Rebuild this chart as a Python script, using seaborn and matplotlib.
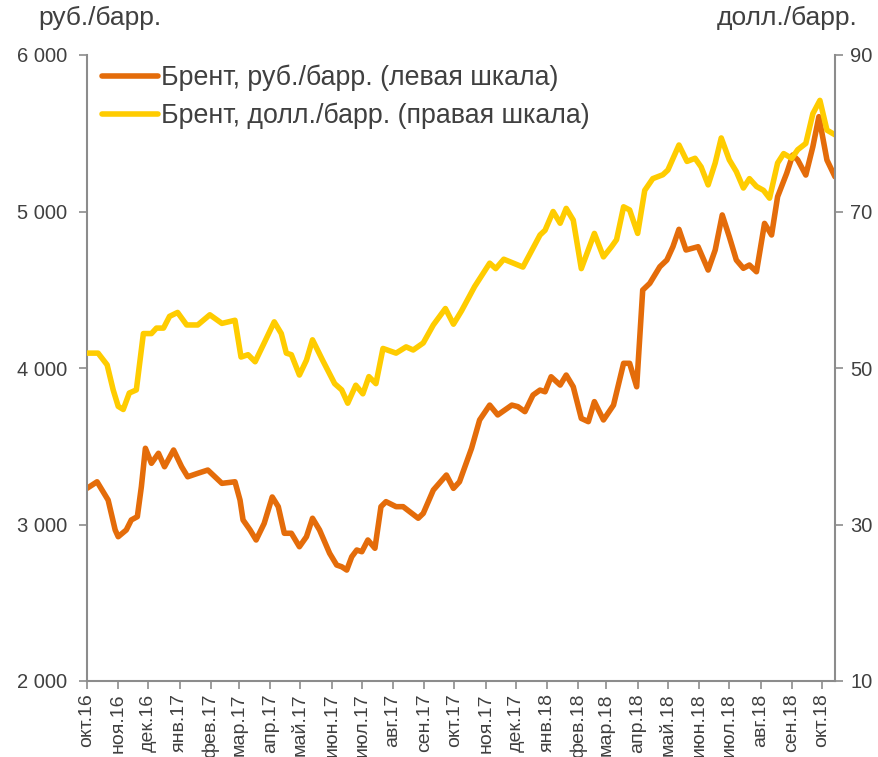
import pandas as pd
import numpy as np
import matplotlib
matplotlib.use("Agg")
import matplotlib.pyplot as plt
import matplotlib.dates as mdates
import seaborn as sns

# ---- data ----
rub_dates = ["2016-10-01", "2016-10-11", "2016-10-22", "2016-10-29", "2016-11-01", "2016-11-09",
             "2016-11-14", "2016-11-20", "2016-11-24", "2016-11-28", "2016-12-04", "2016-12-11",
             "2016-12-17", "2016-12-26", "2017-01-03", "2017-01-09", "2017-01-19", "2017-01-29",
             "2017-02-12", "2017-02-25", "2017-03-02", "2017-03-05", "2017-03-12", "2017-03-18",
             "2017-03-26", "2017-04-03", "2017-04-09", "2017-04-15", "2017-04-22", "2017-04-30",
             "2017-05-07", "2017-05-13", "2017-05-20", "2017-05-30", "2017-06-06", "2017-06-11",
             "2017-06-16", "2017-06-21", "2017-06-26", "2017-07-01", "2017-07-07", "2017-07-14",
             "2017-07-20", "2017-07-25", "2017-08-04", "2017-08-11", "2017-08-26", "2017-08-31",
             "2017-09-10", "2017-09-23", "2017-09-30", "2017-10-06", "2017-10-18", "2017-10-26",
             "2017-11-05", "2017-11-13", "2017-11-27", "2017-12-03", "2017-12-10", "2017-12-18",
             "2017-12-25", "2017-12-30", "2018-01-05", "2018-01-14", "2018-01-20", "2018-01-27",
             "2018-02-04", "2018-02-11", "2018-02-17", "2018-02-26", "2018-03-08", "2018-03-18",
             "2018-03-24", "2018-03-31", "2018-04-06", "2018-04-13", "2018-04-23", "2018-04-30",
             "2018-05-06", "2018-05-12", "2018-05-19", "2018-05-31", "2018-06-10", "2018-06-17",
             "2018-06-24", "2018-07-01", "2018-07-08", "2018-07-15", "2018-07-21", "2018-07-28",
             "2018-08-05", "2018-08-12", "2018-08-18", "2018-08-27", "2018-09-02", "2018-09-07",
             "2018-09-15", "2018-09-22", "2018-09-28", "2018-10-06", "2018-10-14"]
rub_values = [3231, 3273, 3156, 2965, 2922, 2965,
              3029, 3050, 3241, 3487, 3391, 3455,
              3369, 3476, 3369, 3305, 3327, 3348,
              3263, 3273, 3156, 3029, 2965, 2901,
              3007, 3176, 3114, 2944, 2944, 2858,
              2922, 3040, 2965, 2816, 2741, 2730,
              2709, 2794, 2837, 2826, 2901, 2848,
              3114, 3146, 3114, 3114, 3040, 3071,
              3220, 3316, 3231, 3273, 3487, 3668,
              3763, 3700, 3763, 3753, 3721, 3827,
              3859, 3848, 3944, 3891, 3955, 3880,
              3678, 3657, 3785, 3668, 3763, 4030,
              4030, 3880, 4498, 4541, 4647, 4690,
              4775, 4886, 4754, 4775, 4626, 4754,
              4978, 4839, 4690, 4637, 4658, 4615,
              4924, 4850, 5095, 5244, 5361, 5329,
              5233, 5414, 5606, 5329, 5222]

usd_dates = ["2016-10-01", "2016-10-12", "2016-10-21", "2016-10-27", "2016-11-01", "2016-11-06",
             "2016-11-12", "2016-11-19", "2016-11-26", "2016-12-04", "2016-12-09", "2016-12-16",
             "2016-12-22", "2016-12-30", "2017-01-08", "2017-01-19", "2017-01-31", "2017-02-12",
             "2017-02-25", "2017-03-03", "2017-03-10", "2017-03-17", "2017-03-26", "2017-04-05",
             "2017-04-12", "2017-04-17", "2017-04-22", "2017-04-30", "2017-05-07", "2017-05-13",
             "2017-05-23", "2017-06-04", "2017-06-11", "2017-06-17", "2017-06-25", "2017-07-02",
             "2017-07-08", "2017-07-15", "2017-07-22", "2017-08-04", "2017-08-14", "2017-08-21",
             "2017-08-31", "2017-09-10", "2017-09-22", "2017-09-30", "2017-10-08", "2017-10-21",
             "2017-11-05", "2017-11-11", "2017-11-19", "2017-12-08", "2017-12-25", "2017-12-30",
             "2018-01-07", "2018-01-14", "2018-01-20", "2018-01-27", "2018-02-04", "2018-02-17",
             "2018-02-26", "2018-03-06", "2018-03-11", "2018-03-18", "2018-03-24", "2018-04-01",
             "2018-04-08", "2018-04-16", "2018-04-26", "2018-05-01", "2018-05-12", "2018-05-20",
             "2018-05-28", "2018-06-03", "2018-06-10", "2018-06-17", "2018-06-23", "2018-07-01",
             "2018-07-08", "2018-07-15", "2018-07-21", "2018-07-28", "2018-08-04", "2018-08-10",
             "2018-08-18", "2018-08-24", "2018-09-01", "2018-09-07", "2018-09-15", "2018-09-22",
             "2018-09-29", "2018-10-06", "2018-10-14"]
usd_values = [51.9, 51.9, 50.4, 47.2, 45.1, 44.7,
              46.8, 47.2, 54.4, 54.4, 55.1, 55.1,
              56.6, 57.1, 55.5, 55.5, 56.8, 55.7,
              56.1, 51.4, 51.7, 50.8, 53.2, 55.9,
              54.4, 51.9, 51.7, 49.1, 51.0, 53.6,
              51.0, 48.0, 47.2, 45.5, 47.8, 46.7,
              48.9, 48.0, 52.5, 51.9, 52.7, 52.3,
              53.2, 55.5, 57.6, 55.6, 57.3, 60.4,
              63.4, 62.7, 63.9, 62.9, 67.0, 67.6,
              70.0, 68.5, 70.4, 68.9, 62.7, 67.2,
              64.2, 65.5, 66.4, 70.6, 70.2, 67.2,
              72.7, 74.2, 74.7, 75.3, 78.5, 76.4,
              76.8, 75.7, 73.4, 76.2, 79.4, 76.6,
              75.1, 73.0, 74.2, 73.2, 72.7, 71.7,
              76.2, 77.4, 76.8, 77.9, 78.7, 82.5,
              84.2, 80.4, 79.8]

series_names = ["Брент, руб./барр. (левая шкала)", "Брент, долл./барр. (правая шкала)"]
left_ticks = [2000, 3000, 4000, 5000, 6000]
left_tick_labels = ["2 000", "3 000", "4 000", "5 000", "6 000"]
right_ticks = [10, 30, 50, 70, 90]
month_names = ["янв", "фев", "мар", "апр", "май", "июн", "июл", "авг", "сен", "окт", "ноя", "дек"]
left_unit = "руб./барр."
right_unit = "долл./барр."

# ---- styling ----
sns.set_theme(style="white")
plt.rcParams["font.family"] = ["Liberation Sans", "DejaVu Sans"]
ORANGE = "#E46C0A"
YELLOW = "#FFCC00"
AXIS = "#8C8C8C"
TEXT = "#404040"

rub_df = pd.DataFrame({"date": pd.to_datetime(rub_dates), "value": rub_values})
usd_df = pd.DataFrame({"date": pd.to_datetime(usd_dates), "value": usd_values})

fig = plt.figure(figsize=(8.79, 7.57), dpi=100)
ax = fig.add_axes([87 / 879, 1 - 681 / 757, (835 - 87) / 879, (681 - 55) / 757])
ax2 = ax.twinx()

sns.lineplot(data=rub_df, x="date", y="value", ax=ax, color=ORANGE, linewidth=4.0,
             label=series_names[0], legend=False)
sns.lineplot(data=usd_df, x="date", y="value", ax=ax2, color=YELLOW, linewidth=4.0,
             label=series_names[1], legend=False)
for a in (ax, ax2):
    for ln in a.get_lines():
        ln.set_solid_joinstyle("round")
        ln.set_solid_capstyle("round")

ax.set_xlim(pd.Timestamp("2016-10-01"), pd.Timestamp("2018-10-14"))
ax.set_ylim(2000, 6000)
ax2.set_ylim(10, 90)

month_starts = pd.date_range("2016-10-01", "2018-10-01", freq="MS")
ax.set_xticks(month_starts)
ax.set_xticklabels([f"{month_names[d.month - 1]}.{d.year % 100:02d}" for d in month_starts],
                   rotation=90, fontsize=14, color=TEXT)
ax.set_yticks(left_ticks)
ax.set_yticklabels(left_tick_labels, fontsize=14.5, color=TEXT)
ax2.set_yticks(right_ticks)
ax2.set_yticklabels([str(v) for v in right_ticks], fontsize=14.5, color=TEXT)

ax.set_xlabel("")
ax.set_ylabel("")
ax2.set_ylabel("")

for a in (ax, ax2):
    a.spines["top"].set_visible(False)
    for s in ("left", "right", "bottom"):
        a.spines[s].set_color(AXIS)
        a.spines[s].set_linewidth(1.5)
    a.grid(False)
ax.spines["right"].set_visible(False)
ax2.spines["left"].set_visible(False)
ax2.spines["bottom"].set_visible(False)

ax.tick_params(axis="x", direction="out", length=6, width=1.2, color=AXIS, pad=3, bottom=True)
ax.tick_params(axis="y", direction="out", length=6, width=1.2, color=AXIS, pad=8, left=True)
ax2.tick_params(axis="y", direction="out", length=6, width=1.2, color=AXIS, pad=5, right=True)

fig.text(38 / 879, 1 - 18 / 757, left_unit, fontsize=19, color=TEXT, ha="left", va="center")
fig.text(858 / 879, 1 - 18 / 757, right_unit, fontsize=19, color=TEXT, ha="right", va="center")

h1, l1 = ax.get_legend_handles_labels()
h2, l2 = ax2.get_legend_handles_labels()
leg = ax.legend(h1 + h2, l1 + l2, loc="upper left", bbox_to_anchor=(0.0, 1.008),
                frameon=False, fontsize=19.3, labelcolor=TEXT, handlelength=2.1,
                handletextpad=0.1, borderaxespad=0.15, labelspacing=0.42)

fig.savefig("out.png", dpi=100, facecolor="white")
